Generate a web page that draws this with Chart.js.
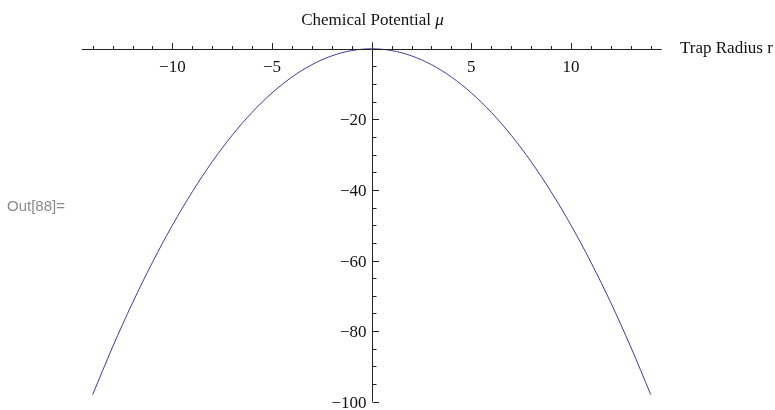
<!DOCTYPE html>
<html>
<head>
<meta charset="utf-8">
<script src="https://cdn.jsdelivr.net/npm/chart.js@4.4.0/dist/chart.umd.min.js"></script>
<style>
    html, body { margin: 0; padding: 0; background: #fff; }
    #wrap { width: 775px; height: 410px; position: relative; }
</style>
</head>
<body>
<div id="wrap"><canvas id="muChart" width="775" height="410"></canvas></div>
<script>
// Trap radius r and chemical potential mu
const radius = [-14, -13, -12, -11, -10, -9, -8, -7, -6, -5, -4, -3, -2, -1, 0,
                1, 2, 3, 4, 5, 6, 7, 8, 9, 10, 11, 12, 13, 14];
const potential = [-98, -84.5, -72, -60.5, -50, -40.5, -32, -24.5, -18, -12.5, -8, -4.5, -2, -0.5, 0,
                   -0.5, -2, -4.5, -8, -12.5, -18, -24.5, -32, -40.5, -50, -60.5, -72, -84.5, -98];

const xMajorTicks = [-10, -5, 5, 10];
const xMinorTicks = [-14, -13, -12, -11, -9, -8, -7, -6, -4, -3, -2, -1, 1, 2, 3, 4, 6, 7, 8, 9, 11, 12, 13, 14];
const yMajorTicks = [-20, -40, -60, -80, -100];
const yMinorTicks = [-5, -10, -15, -25, -30, -35, -45, -50, -55, -65, -70, -75, -85, -90, -95];

const xAxisTitle = 'Trap Radius r';
const yAxisTitle = 'Chemical Potential ';
const cellLabel = 'Out[88]=';

const serif = '"Liberation Serif", "Times New Roman", serif';

function fmt(v) {
    return v < 0 ? '\u2212' + Math.abs(v) : String(v);
}

// Mathematica style axes crossing at the origin
const axesPlugin = {
    id: 'mathAxes',
    afterDatasetsDraw(chart) {
        const ctx = chart.ctx;
        const area = chart.chartArea;
        const xs = chart.scales.x;
        const ys = chart.scales.y;
        const x0 = Math.round(xs.getPixelForValue(0)) + 0.5;
        const y0 = Math.round(ys.getPixelForValue(0)) + 0.5;

        ctx.save();
        ctx.strokeStyle = '#222';
        ctx.lineWidth = 1;

        // axis lines
        ctx.beginPath();
        ctx.moveTo(area.left, y0);
        ctx.lineTo(area.right, y0);
        ctx.moveTo(x0, area.top);
        ctx.lineTo(x0, area.bottom);
        ctx.stroke();

        // x ticks point up
        ctx.beginPath();
        xMinorTicks.forEach(v => {
            const px = Math.round(xs.getPixelForValue(v)) + 0.5;
            ctx.moveTo(px, y0);
            ctx.lineTo(px, y0 - 3.5);
        });
        xMajorTicks.forEach(v => {
            const px = Math.round(xs.getPixelForValue(v)) + 0.5;
            ctx.moveTo(px, y0);
            ctx.lineTo(px, y0 - 6.5);
        });
        // y ticks point right
        yMinorTicks.forEach(v => {
            const py = Math.round(ys.getPixelForValue(v)) + 0.5;
            ctx.moveTo(x0, py);
            ctx.lineTo(x0 + 4, py);
        });
        yMajorTicks.forEach(v => {
            const py = Math.round(ys.getPixelForValue(v)) + 0.5;
            ctx.moveTo(x0, py);
            ctx.lineTo(x0 + 6.5, py);
        });
        ctx.stroke();

        // tick labels
        ctx.fillStyle = '#111';
        ctx.font = '17px ' + serif;
        ctx.textBaseline = 'alphabetic';
        ctx.textAlign = 'center';
        xMajorTicks.forEach(v => {
            ctx.fillText(fmt(v), xs.getPixelForValue(v), y0 + 22.5);
        });
        ctx.textAlign = 'right';
        yMajorTicks.forEach(v => {
            ctx.fillText(fmt(v), x0 - 6, ys.getPixelForValue(v) + 6);
        });

        // axis titles
        ctx.textAlign = 'left';
        ctx.fillText(xAxisTitle, 680, y0 + 3.5);

        const w1 = ctx.measureText(yAxisTitle).width;
        ctx.font = 'italic 17px ' + serif;
        const w2 = ctx.measureText('\u03bc').width;
        const startX = x0 - (w1 + w2) / 2;
        ctx.font = '17px ' + serif;
        ctx.fillText(yAxisTitle, startX, 25);
        ctx.font = 'italic 17px ' + serif;
        ctx.fillText('\u03bc', startX + w1, 25);

        // notebook output label
        ctx.font = '15px "Liberation Sans", Arial, sans-serif';
        ctx.fillStyle = '#8a8a8a';
        ctx.fillText(cellLabel, 7, 210.5);
        ctx.restore();
    }
};

const ctx = document.getElementById('muChart').getContext('2d');
const muChart = new Chart(ctx, {
    type: 'line',
    data: {
        datasets: [{
            label: 'mu',
            data: radius.map((r, i) => ({ x: r, y: potential[i] })),
            borderColor: '#3d3d99',
            borderWidth: 1,
            fill: false,
            pointRadius: 0,
            cubicInterpolationMode: 'monotone'
        }]
    },
    options: {
        responsive: false,
        animation: false,
        layout: {
            padding: { left: 81.7, right: 113.3, top: 42.3, bottom: 8.3 }
        },
        scales: {
            x: { type: 'linear', min: -14.55, max: 14.55, display: false },
            y: { type: 'linear', min: -100, max: 1.84, display: false }
        },
        plugins: {
            legend: { display: false },
            title: { display: false },
            tooltip: { enabled: false }
        }
    },
    plugins: [axesPlugin]
});
</script>
</body>
</html>
